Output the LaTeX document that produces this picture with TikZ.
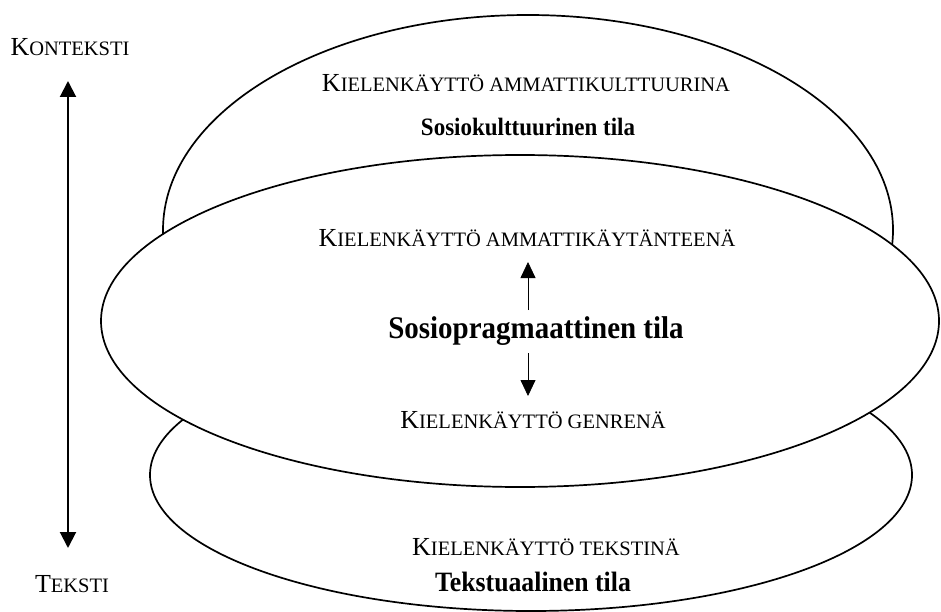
\documentclass[tikz,border=0pt]{standalone}
\usepackage{fontspec}
\setmainfont{Liberation Serif}[BoldFeatures={FakeStretch=0.92}]
\usetikzlibrary{arrows.meta,shapes.geometric}
\newcommand\scbig{\fontsize{26}{30}\selectfont}
\newcommand\scsmall{\fontsize{20.5}{30}\selectfont}
\newcommand\sctext[2]{{\scbig #1\scsmall #2}}
\begin{document}
\begin{tikzpicture}[x=1pt,y=-1pt,
  zone/.style={ellipse, draw, line width=1.7pt, fill=white, inner sep=0pt},
  sclabel/.style={anchor=base, inner sep=0pt},
  boldlabel/.style={anchor=base, inner sep=0pt},
  smallarrow/.style={-{Triangle[width=15pt,length=16pt]}, line width=0.8pt},
  bigarrow/.style={{Triangle[width=16pt,length=16pt]}-{Triangle[width=16pt,length=16pt]}, line width=2pt}]
\useasboundingbox (0,0) rectangle (941,612);
% ellipses
\node[zone, minimum width=730pt, minimum height=430pt] (kult) at (528,230) {};
\node[zone, minimum width=762pt, minimum height=272pt] (teks) at (531,475) {};
\node[zone, minimum width=838pt, minimum height=332pt] (prag) at (520,321) {};
% side labels and arrow
\node[sclabel] (konteksti) at (70,56) {\sctext{K}{ONTEKSTI}};
\node[sclabel] (tekstilab) at (72,592) {\sctext{T}{EKSTI}};
\coordinate (ktop) at (68,81);
\coordinate (kbot) at (68,548);
\draw[bigarrow] (ktop) -- (kbot);
% top ellipse texts
\node[sclabel] (l1) at (526,92) {\sctext{K}{IELENKÄYTTÖ AMMATTIKULTTUURINA}};
\node[boldlabel, font=\bfseries\fontsize{25}{30}\selectfont] (b1) at (528,136) {Sosiokulttuurinen tila};
% middle ellipse texts
\node[sclabel] (l2) at (527,246) {\sctext{K}{IELENKÄYTTÖ AMMATTIKÄYTÄNTEENÄ}};
\node[boldlabel, font=\bfseries\fontsize{31.5}{36}\selectfont] (b2) at (536,338) {Sosiopragmaattinen tila};
\node[sclabel] (l3) at (533,428) {\sctext{K}{IELENKÄYTTÖ GENRENÄ}};
\coordinate (u1) at (528,310);
\coordinate (u2) at (528,262);
\coordinate (d1) at (528,353);
\coordinate (d2) at (528,396);
\draw[smallarrow] (u1) -- (u2);
\draw[smallarrow] (d1) -- (d2);
% bottom ellipse texts
\node[sclabel] (l4) at (546,555) {\sctext{K}{IELENKÄYTTÖ TEKSTINÄ}};
\node[boldlabel, font=\bfseries\fontsize{28}{33}\selectfont] (b3) at (533,591) {Tekstuaalinen tila};
\end{tikzpicture}
\end{document}
